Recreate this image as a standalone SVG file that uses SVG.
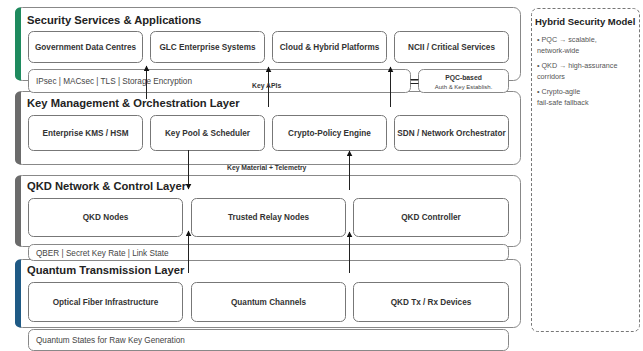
<svg xmlns="http://www.w3.org/2000/svg" width="643" height="351" viewBox="0 0 643 351">
<defs>
<marker id="ah" viewBox="0 0 10 10" refX="9" refY="5" markerWidth="6" markerHeight="6" orient="auto-start-reverse" markerUnits="userSpaceOnUse">
<path d="M0,0 L10,5 L0,10 z" fill="#111"/>
</marker>
</defs>
<style>
.layer{fill:#fff;stroke:#888;stroke-width:1}
.box{fill:#fff;stroke:#777;stroke-width:1}
.strip{fill:#fff;stroke:#888;stroke-width:1}
.title{font-family:"Liberation Sans",Arial,sans-serif;font-weight:bold;font-size:11.2px;fill:#222}
.lbl{font-family:"Liberation Sans",Arial,sans-serif;font-weight:bold;font-size:8.2px;fill:#333}
.st{font-family:"Liberation Sans",Arial,sans-serif;font-size:8.2px;fill:#444}
.cl{font-family:"Liberation Sans",Arial,sans-serif;font-weight:bold;font-size:6.8px;fill:#333}
.side{font-family:"Liberation Sans",Arial,sans-serif;font-size:7.2px;fill:#555}
.conn{stroke:#222;stroke-width:1;fill:none}
</style>
<rect width="643" height="351" fill="#fff"/>

<g id="layer-security">
<rect class="layer" x="15.5" y="7.5" width="505" height="73" rx="7"/>
<path d="M21,7.5 h-1 a5,5 0 0 0 -5,5 v63 a5,5 0 0 0 5,5 h1 z" fill="#1e8a5e"/>
<text class="title" x="27" y="24">Security Services &amp; Applications</text>
</g>
<g id="layer-keymgmt">
<rect class="layer" x="15.5" y="91.5" width="505" height="73" rx="7"/>
<path d="M21,91.5 h-1 a5,5 0 0 0 -5,5 v63 a5,5 0 0 0 5,5 h1 z" fill="#6b6b6b"/>
<text class="title" x="27" y="107">Key Management &amp; Orchestration Layer</text>
</g>
<g id="layer-qkdnet">
<rect class="layer" x="15.5" y="175.5" width="505" height="71" rx="7"/>
<path d="M21,175.5 h-1 a5,5 0 0 0 -5,5 v61 a5,5 0 0 0 5,5 h1 z" fill="#6b6b6b"/>
<text class="title" x="27" y="190">QKD Network &amp; Control Layer</text>
</g>
<g id="layer-quantum">
<rect class="layer" x="15.5" y="259.5" width="505" height="68" rx="7"/>
<path d="M21,259.5 h-1 a5,5 0 0 0 -5,5 v58 a5,5 0 0 0 5,5 h1 z" fill="#1f5a85"/>
<text class="title" x="27" y="274">Quantum Transmission Layer</text>
</g>

<g id="n-gov"><rect class="box" x="28.5" y="31.5" width="114" height="31" rx="5"/><text class="lbl" x="85.5" y="50" text-anchor="middle">Government Data Centres</text></g>
<g id="n-glc"><rect class="box" x="150.5" y="31.5" width="114" height="31" rx="5"/><text class="lbl" x="207.5" y="50" text-anchor="middle">GLC Enterprise Systems</text></g>
<g id="n-cloud"><rect class="box" x="272.5" y="31.5" width="114" height="31" rx="5"/><text class="lbl" x="329.5" y="50" text-anchor="middle">Cloud &amp; Hybrid Platforms</text></g>
<g id="n-ncii"><rect class="box" x="394.5" y="31.5" width="114" height="31" rx="5"/><text class="lbl" x="451.5" y="50" text-anchor="middle">NCII / Critical Services</text></g>

<g id="n-kms"><rect class="box" x="28.5" y="115.5" width="114" height="35" rx="5"/><text class="lbl" x="85.5" y="136" text-anchor="middle">Enterprise KMS / HSM</text></g>
<g id="n-pool"><rect class="box" x="150.5" y="115.5" width="114" height="35" rx="5"/><text class="lbl" x="207.5" y="136" text-anchor="middle">Key Pool &amp; Scheduler</text></g>
<g id="n-policy"><rect class="box" x="272.5" y="115.5" width="114" height="35" rx="5"/><text class="lbl" x="329.5" y="136" text-anchor="middle">Crypto-Policy Engine</text></g>
<g id="n-sdn"><rect class="box" x="394.5" y="115.5" width="114" height="35" rx="5"/><text class="lbl" x="451.5" y="136" text-anchor="middle">SDN / Network Orchestrator</text></g>

<g id="n-qkdnodes"><rect class="box" x="28.5" y="198.5" width="154" height="38" rx="5"/><text class="lbl" x="105.5" y="220" text-anchor="middle">QKD Nodes</text></g>
<g id="n-relay"><rect class="box" x="191.5" y="198.5" width="154" height="38" rx="5"/><text class="lbl" x="268.5" y="220" text-anchor="middle">Trusted Relay Nodes</text></g>
<g id="n-ctrl"><rect class="box" x="353.5" y="198.5" width="155" height="38" rx="5"/><text class="lbl" x="431" y="220" text-anchor="middle">QKD Controller</text></g>

<g id="n-fiber"><rect class="box" x="28.5" y="282.5" width="154" height="39" rx="5"/><text class="lbl" x="105.5" y="305" text-anchor="middle">Optical Fiber Infrastructure</text></g>
<g id="n-channels"><rect class="box" x="191.5" y="282.5" width="154" height="39" rx="5"/><text class="lbl" x="268.5" y="305" text-anchor="middle">Quantum Channels</text></g>
<g id="n-txrx"><rect class="box" x="353.5" y="282.5" width="155" height="39" rx="5"/><text class="lbl" x="431" y="305" text-anchor="middle">QKD Tx / Rx Devices</text></g>

<g id="strip-crypto"><rect class="strip" x="28.5" y="69.5" width="382" height="23" rx="5"/><text class="st" x="36" y="84">IPsec | MACsec | TLS | Storage Encryption</text></g>
<g id="n-pqc"><rect class="strip" x="418.5" y="69.5" width="90" height="23" rx="5"/><text class="cl" x="463.5" y="79.5" text-anchor="middle">PQC-based</text><text class="st" x="463.5" y="89" text-anchor="middle" style="font-size:6px">Auth &amp; Key Establish.</text></g>
<g id="strip-qber"><rect class="strip" x="28.5" y="244.5" width="480" height="16" rx="5"/><text class="st" x="36" y="256">QBER | Secret Key Rate | Link State</text></g>
<g id="strip-states"><rect class="strip" x="28.5" y="329.5" width="480" height="21" rx="5"/><text class="st" x="36" y="343">Quantum States for Raw Key Generation</text></g>

<g id="connectors">
<path class="conn" d="M410.5,79.5 h8 M410.5,83.5 h8"/>
<line class="conn" x1="146.5" y1="99" x2="146.5" y2="66" marker-end="url(#ah)"/>
<line class="conn" x1="268.5" y1="107" x2="268.5" y2="67" marker-end="url(#ah)"/>
<line class="conn" x1="390.5" y1="107" x2="390.5" y2="67" marker-end="url(#ah)"/>
<line class="conn" x1="188.5" y1="150" x2="188.5" y2="189" marker-end="url(#ah)"/>
<line class="conn" x1="188.5" y1="273" x2="188.5" y2="231" marker-end="url(#ah)"/>
<line class="conn" x1="349.5" y1="190" x2="349.5" y2="151" marker-end="url(#ah)"/>
<line class="conn" x1="349.5" y1="273" x2="349.5" y2="232" marker-end="url(#ah)"/>
<text class="cl" x="252" y="88">Key APIs</text>
<text class="cl" x="227" y="169.5">Key Material + Telemetry</text>
</g>

<g id="hybrid-model">
<rect x="531.5" y="8.5" width="108" height="323" rx="6" fill="#fff" stroke="#777" stroke-width="1" stroke-dasharray="3,2"/>
<text class="title" x="535" y="25" style="font-size:9.5px">Hybrid Security Model</text>
<text class="side" x="537" y="42">• PQC → scalable,</text>
<text class="side" x="537" y="53">network-wide</text>
<text class="side" x="537" y="68">• QKD → high-assurance</text>
<text class="side" x="537" y="79">corridors</text>
<text class="side" x="537" y="94">• Crypto-agile</text>
<text class="side" x="537" y="105">fail-safe fallback</text>
</g>
</svg>
